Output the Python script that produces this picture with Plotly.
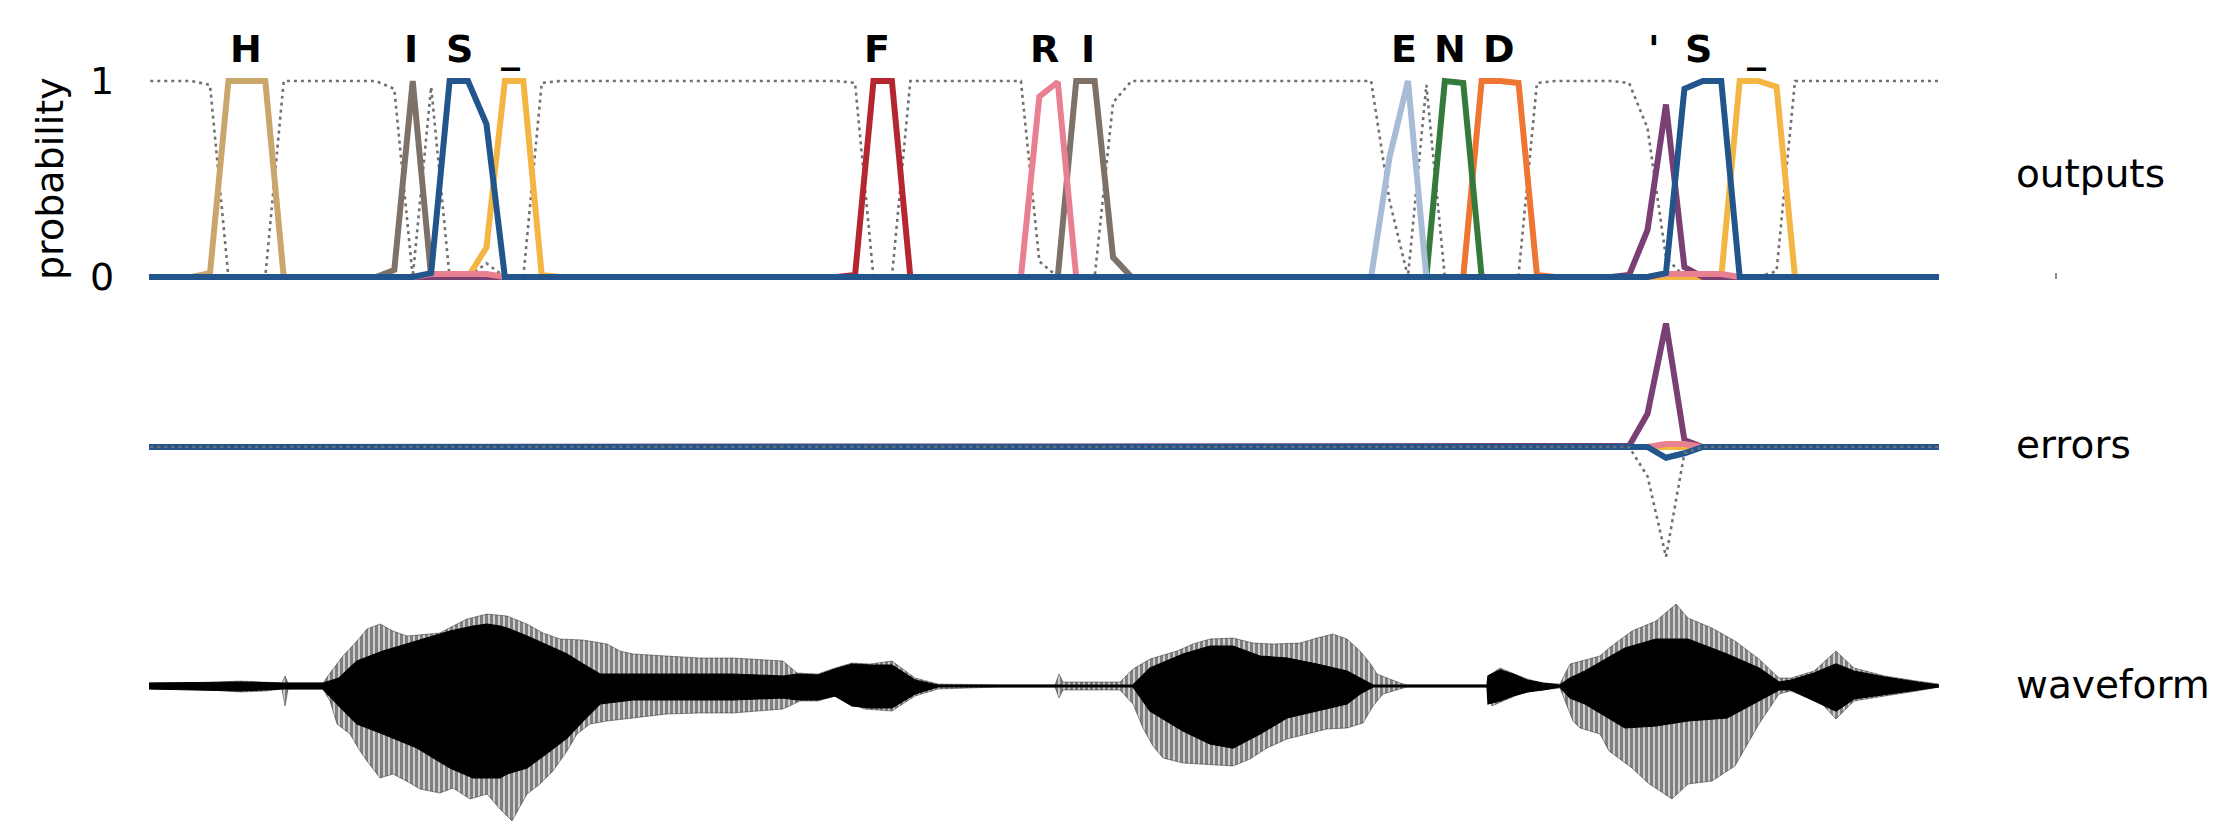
import plotly.graph_objects as go

# ------------------------------------------------------------------ data
# network output frames (time axis in ms)
FRAME_T0_MS = 61.0
FRAME_STEP_MS = 18.43
FRAMES = list(range(-4, 96))

# per-label output probabilities: (first frame, values from that frame on)
H_SEG = [(0, [0.02, 1.0, 1.0, 1.0])]
I_SEG = [(10, [0.036, 1.0]), (47, [1.0, 1.0, 0.10])]
S_SEG = [(12, [0.02, 1.0, 1.0, 0.78]), (79, [0.02, 0.96, 1.0, 1.0])]
US_SEG = [(15, [0.15, 1.0, 1.0, 0.01]), (83, [1.0, 1.0, 0.97])]
F_SEG = [(35, [0.01, 1.0, 1.0])]
R_SEG = [(12, [0.015, 0.015, 0.015, 0.015]), (45, [0.92, 0.995]), (79, [0.015, 0.015, 0.015, 0.015])]
E_SEG = [(64, [0.61, 1.0])]
N_SEG = [(67, [1.0, 0.99])]
D_SEG = [(69, [1.0, 1.0, 0.99, 0.01])]
AP_SEG = [(77, [0.01, 0.24, 0.88, 0.05])]

# blank probability (dotted): frames where it departs from 1
BLANK_FRAMES = [0, 1, 2, 3, 10, 11, 12, 13, 14, 15, 16, 17, 18, 35, 36, 37,
                45, 46, 47, 48, 49, 64, 65, 66, 67, 68, 69, 70, 71, 72,
                77, 78, 79, 80, 81, 82, 83, 84, 85]
BLANK_VALUES = [0.98, 0, 0, 0, 0.96, 0, 0.97, 0, 0, 0.07, 0, 0, 0.99, 0.99, 0, 0,
                0.08, 0, 0, 0, 0.89, 0.39, 0, 0.98, 0, 0.01, 0, 0, 0.01, 0.99,
                0.99, 0.76, 0.10, 0, 0, 0, 0, 0, 0.03]

# error signals
ERR_AP_SEG = [(77, [0.005, 0.17, 0.63, 0.035])]
ERR_S_SEG = [(79, [-0.055, -0.032])]
ERR_R_SEG = [(79, [0.015, 0.015])]
ERR_BLANK_FRAMES = [78, 79, 80]
ERR_BLANK_VALUES = [-0.15, -0.56, -0.032]

# label text above the peaks (frame position)
LABEL_TEXT = ["H", "I", "S", "_", "F", "R", "I", "E", "N", "D", "'", "S", "_"]
LABEL_FRAME = [1.95, 10.9, 13.54, 16.33, 36.19, 45.3, 47.65, 64.8, 67.3, 69.95, 78.35, 80.75, 83.9]

# waveform (time in ms, amplitude in arbitrary units)
WAVE_UP_T = [0, 51, 91, 117, 133, 136, 139, 171, 174, 181, 194, 208, 218, 231, 244, 258,
             278, 291, 304, 318, 338, 358, 378, 394, 411, 434, 458, 471, 484, 518, 551,
             584, 634, 648, 669, 686, 703, 721, 743, 766, 789, 851, 906, 910, 914, 971,
             984, 1001, 1028, 1044, 1061, 1084, 1104, 1124, 1151, 1168, 1184, 1198, 1211,
             1221, 1228, 1251, 1258, 1338, 1339, 1351, 1364, 1378, 1394, 1411, 1421, 1451,
             1460, 1483, 1507, 1527, 1539, 1563, 1586, 1610, 1630, 1642, 1665, 1687, 1705,
             1736, 1768, 1790]
WAVE_UP = [3, 3, 5, 4, 3, 10, 3, 3, 3, 13, 30, 45, 57, 62, 55, 50,
           52, 53, 60, 67, 72, 70, 62, 53, 47, 46, 42, 35, 32, 30, 28,
           28, 25, 13, 12, 18, 23, 22, 25, 8, 2, 1, 1, 12, 4, 4,
           17, 27, 35, 42, 47, 48, 43, 42, 43, 48, 52, 47, 35,
           23, 12, 3, 1, 1, 10, 18, 13, 7, 3, 2, 22, 30,
           38, 55, 65, 82, 68, 58, 45, 27, 8, 8, 15, 35, 18,
           10, 5, 2]
WAVE_LO_T = [0, 51, 91, 117, 133, 136, 139, 174, 181, 188, 201, 211, 218, 231, 244, 261,
             271, 291, 304, 321, 338, 351, 363, 378, 391, 404, 418, 428, 441, 458, 484,
             518, 551, 584, 634, 651, 669, 686, 715, 743, 766, 789, 851, 906, 910, 914,
             971, 984, 994, 1004, 1014, 1034, 1051, 1084, 1101, 1118, 1138, 1158, 1178,
             1198, 1214, 1224, 1234, 1251, 1258, 1338, 1343, 1354, 1371, 1384, 1411, 1424,
             1431, 1451, 1460, 1483, 1499, 1523, 1539, 1563, 1586, 1610, 1630, 1642, 1673,
             1687, 1705, 1736, 1768, 1790]
WAVE_LO = [-3, -3, -6, -5, -3, -20, -3, -3, -15, -38, -48, -65, -75, -92, -88, -97,
           -103, -107, -102, -113, -108, -123, -135, -108, -98, -85, -65, -48, -38, -35, -32,
           -28, -27, -27, -23, -15, -15, -10, -23, -25, -10, -3, -1, -1, -12, -4,
           -4, -18, -42, -60, -72, -77, -78, -80, -73, -62, -53, -48, -43,
           -42, -37, -20, -8, -3, -1, -1, -20, -15, -8, -5, -2, -35,
           -42, -48, -65, -82, -97, -113, -98, -95, -80, -38, -8, -5, -18,
           -33, -15, -10, -5, -1]
CORE_T = [0, 91, 133, 174, 190, 208, 234, 268, 301, 324, 338, 351, 358, 378, 401, 418,
          434, 451, 484, 584, 634, 648, 669, 686, 703, 721, 743, 766, 789, 984, 1001,
          1034, 1061, 1084, 1111, 1138, 1168, 1198, 1211, 1224, 1338, 1339, 1351, 1364,
          1378, 1394, 1411, 1421, 1436, 1476, 1507, 1539, 1578, 1610, 1630, 1642, 1665,
          1687, 1705, 1736, 1768, 1790]
CORE_UP = [3, 4, 3, 3, 8, 25, 35, 45, 55, 60, 62, 60, 58, 50, 40, 32,
           22, 12, 12, 12, 10, 12, 11, 17, 22, 21, 21, 6, 1, 1, 18,
           32, 40, 40, 30, 28, 22, 15, 8, 1, 1, 10, 16, 12,
           6, 3, 1, 8, 15, 38, 47, 47, 32, 18, 4, 6, 13,
           22, 15, 9, 4, 1]
CORE_LO = [-3, -5, -3, -3, -20, -38, -48, -62, -82, -92, -92, -92, -88, -82, -65, -52,
           -35, -18, -14, -14, -12, -14, -14, -10, -20, -22, -22, -8, -1, -1, -25,
           -45, -58, -62, -48, -32, -25, -18, -8, -1, -1, -18, -15, -10,
           -6, -4, -1, -12, -18, -42, -40, -35, -32, -15, -4, -4, -15,
           -25, -13, -9, -4, -1]

COLORS = {"H": "#C9A66B", "I": "#7E7167", "S": "#22558B", "_": "#F4B642",
          "F": "#B4272E", "R": "#E88092", "E": "#A9BCD6", "N": "#357A3B",
          "D": "#EE7632", "'": "#7A3F73"}
BLANK_COLOR = "#707070"

# ------------------------------------------------------------------ helpers
W, H = 2240, 826
FONT = "DejaVu Sans"
frame_t = [FRAME_T0_MS + k * FRAME_STEP_MS for k in FRAMES]


def expand(segments):
    vals = [0.0] * len(FRAMES)
    for start, seq in segments:
        for i, v in enumerate(seq):
            k = start + i
            if k in FRAMES:
                vals[FRAMES.index(k)] = v
    return vals


def blank_series(frames, values, default):
    vals = [default] * len(FRAMES)
    for k, v in zip(frames, values):
        vals[FRAMES.index(k)] = v
    return vals


def px_to_paper_y(py):
    return (H - py) / H


fig = go.Figure()

LW = 6
DOT = dict(color=BLANK_COLOR, width=2.6, dash="3px,4px")
# ---------------- outputs
fig.add_trace(go.Scatter(x=frame_t, y=blank_series(BLANK_FRAMES, BLANK_VALUES, 1.0),
                         mode="lines", yaxis="y", line=DOT))
out_order = [("H", H_SEG), ("D", D_SEG), ("N", N_SEG), ("E", E_SEG), ("F", F_SEG),
             ("I", I_SEG), ("_", US_SEG), ("'", AP_SEG), ("R", R_SEG), ("S", S_SEG)]
for lab, seg in out_order:
    fig.add_trace(go.Scatter(x=frame_t, y=expand(seg), mode="lines", yaxis="y",
                             line=dict(color=COLORS[lab], width=LW)))

# ---------------- errors
err_order = [("H", []), ("D", []), ("N", []), ("E", []), ("F", []), ("I", []),
             ("_", []), ("'", ERR_AP_SEG), ("R", ERR_R_SEG), ("S", ERR_S_SEG)]
for lab, seg in err_order:
    fig.add_trace(go.Scatter(x=frame_t, y=expand(seg), mode="lines", yaxis="y2",
                             line=dict(color=COLORS[lab], width=LW)))
fig.add_trace(go.Scatter(x=frame_t, y=blank_series(ERR_BLANK_FRAMES, ERR_BLANK_VALUES, 0.0),
                         mode="lines", yaxis="y2", line=DOT))

# ---------------- waveform
fig.add_trace(go.Scatter(x=WAVE_UP_T + WAVE_LO_T[::-1], y=WAVE_UP + WAVE_LO[::-1],
                         mode="lines", yaxis="y3", fill="toself",
                         fillcolor="rgba(0,0,0,0)",
                         fillpattern=dict(shape="|", size=5, solidity=0.75,
                                          fgcolor="#000000", bgcolor="rgba(255,255,255,0)"),
                         line=dict(color="rgba(0,0,0,0.5)", width=0.8)))
fig.add_trace(go.Scatter(x=CORE_T + CORE_T[::-1], y=CORE_UP + CORE_LO[::-1],
                         mode="lines", yaxis="y3", fill="toself", fillcolor="#000000",
                         line=dict(color="#000000", width=1.2)))

# ---------------- annotations
ann = []
for txt, k in zip(LABEL_TEXT, LABEL_FRAME):
    ann.append(dict(x=FRAME_T0_MS + k * FRAME_STEP_MS, y=px_to_paper_y(49), xref="x", yref="paper",
                    text="<b>%s</b>" % txt, showarrow=False, xanchor="center", yanchor="middle",
                    font=dict(family=FONT, size=38, color="black")))
for v in (0, 1):
    ann.append(dict(x=116 / W, y=v, xref="paper", yref="y", text=str(v), showarrow=False,
                    xanchor="right", yanchor="middle",
                    font=dict(family=FONT, size=38, color="black")))
ann.append(dict(x=50 / W, y=px_to_paper_y(179), xref="paper", yref="paper", text="probability",
                textangle=-90, showarrow=False, xanchor="center", yanchor="middle",
                font=dict(family=FONT, size=38, color="black")))
for txt, py in (("outputs", 174), ("errors", 444), ("waveform", 684)):
    ann.append(dict(x=2014 / W, y=px_to_paper_y(py), xref="paper", yref="paper", text=txt,
                    showarrow=False, xanchor="left", yanchor="middle",
                    font=dict(family=FONT, size=39, color="black")))

X_DOMAIN = [149 / W, 1939 / W]
fig.update_layout(
    width=W, height=H,
    margin=dict(l=0, r=0, t=0, b=0),
    paper_bgcolor="white", plot_bgcolor="white",
    showlegend=False,
    xaxis=dict(domain=X_DOMAIN, range=[0, 1790], visible=False, anchor="y"),
    yaxis=dict(domain=[px_to_paper_y(296.6), px_to_paper_y(71.2)], range=[-0.1, 1.05],
               visible=False, anchor="x"),
    yaxis2=dict(domain=[px_to_paper_y(564.6), px_to_paper_y(309.8)], range=[-0.6, 0.7],
                visible=False, anchor="x"),
    yaxis3=dict(domain=[0, px_to_paper_y(586)], range=[-140, 100], visible=False, anchor="x"),
    annotations=ann,
    shapes=[dict(type="line", xref="paper", yref="paper", x0=2056 / W, x1=2056 / W,
                 y0=px_to_paper_y(279), y1=px_to_paper_y(273),
                 line=dict(color="#666666", width=1.5))],
)

fig.write_html("out.html")
